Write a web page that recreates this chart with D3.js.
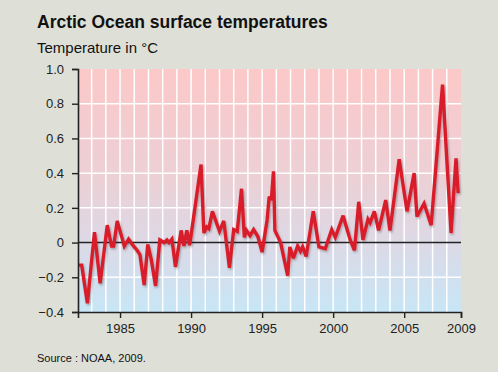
<!DOCTYPE html>
<html>
<head>
<meta charset="utf-8">
<script src="https://cdn.jsdelivr.net/npm/d3@7"></script>
<style>
  html, body { margin: 0; padding: 0; background: #dedfd6; }
  svg { display: block; font-family: "Liberation Sans", Arial, sans-serif; }
</style>
</head>
<body>
<div id="chart"></div>
<script>
// Values (decimal year, anomaly in °C)
const years = [
    1982.1, 1982.3, 1982.7, 1983.2, 1983.6, 1984.1, 1984.4, 1984.55, 1984.8, 1985.3,
    1985.6, 1985.9, 1986.25, 1986.4, 1986.7, 1986.95, 1987.2, 1987.5, 1987.8, 1988.1,
    1988.3, 1988.45, 1988.65, 1988.9, 1989.3, 1989.5, 1989.7, 1989.9, 1990.7, 1990.9,
    1991.1, 1991.25, 1991.5, 1992.0, 1992.3, 1992.7, 1993.0, 1993.25, 1993.55, 1993.75,
    1993.9, 1994.15, 1994.4, 1994.7, 1995.0, 1995.35, 1995.5, 1995.65, 1995.8, 1995.9,
    1996.3, 1996.8, 1996.95, 1997.2, 1997.5, 1997.7, 1997.85, 1998.1, 1998.6, 1999.0,
    1999.45, 1999.9, 2000.15, 2000.7, 2001.2, 2001.5, 2001.8, 2002.1, 2002.45, 2002.6,
    2002.9, 2003.2, 2003.7, 2004.0, 2004.65, 2005.2, 2005.7, 2005.9, 2006.4, 2006.9,
    2007.7, 2008.3, 2008.65, 2008.8
];
const temps = [
    -0.13, -0.13, -0.35, 0.06, -0.235, 0.10, -0.02, -0.02, 0.125, -0.02,
    0.02, -0.015, -0.05, -0.07, -0.245, -0.01, -0.10, -0.25, 0.015, 0.0,
    0.015, 0.0, 0.02, -0.14, 0.07, -0.02, 0.07, -0.015, 0.45, 0.055,
    0.09, 0.08, 0.18, 0.065, 0.125, -0.145, 0.075, 0.065, 0.31, 0.03,
    0.07, 0.04, 0.075, 0.035, -0.055, 0.13, 0.265, 0.245, 0.41, 0.07,
    0.0, -0.19, -0.025, -0.09, -0.02, -0.05, -0.025, -0.08, 0.18, -0.025,
    -0.035, 0.075, 0.03, 0.155, 0.015, -0.045, 0.235, 0.015, 0.135, 0.115,
    0.18, 0.07, 0.245, 0.07, 0.48, 0.18, 0.40, 0.15, 0.225, 0.10,
    0.91, 0.055, 0.485, 0.285
];
const xTicks = [1985, 1990, 1995, 2000, 2005, 2009];
const yTicks = [-0.4, -0.2, 0, 0.2, 0.4, 0.6, 0.8, 1.0];

const data = years.map((y, i) => ({ year: y, t: temps[i] }));

const width = 498, height = 372;
const margin = { top: 69, right: 37, bottom: 60, left: 78 };
const innerWidth = width - margin.left - margin.right;
const innerHeight = height - margin.top - margin.bottom;

const svg = d3.select('#chart').append('svg')
    .attr('width', width)
    .attr('height', height);

svg.append('rect')
    .attr('width', width)
    .attr('height', height)
    .attr('fill', '#dedfd6');

const defs = svg.append('defs');
const grad = defs.append('linearGradient')
    .attr('id', 'bg-grad')
    .attr('x1', 0).attr('y1', 0).attr('x2', 0).attr('y2', 1);
grad.append('stop').attr('offset', '0%').attr('stop-color', '#fcc8c8');
grad.append('stop').attr('offset', '45%').attr('stop-color', '#ecd0d6');
grad.append('stop').attr('offset', '72%').attr('stop-color', '#dcd9e6');
grad.append('stop').attr('offset', '100%').attr('stop-color', '#c7e6f6');

const shadow = defs.append('filter')
    .attr('id', 'shadow')
    .attr('x', '-10%').attr('y', '-10%')
    .attr('width', '120%').attr('height', '120%');
shadow.append('feDropShadow')
    .attr('dx', 1).attr('dy', 1.5)
    .attr('stdDeviation', 1.2)
    .attr('flood-color', '#000')
    .attr('flood-opacity', 0.3);

// Titles
svg.append('text')
    .attr('x', 37).attr('y', 28)
    .style('font-size', '17.5px')
    .style('font-weight', 'bold')
    .style('fill', '#111')
    .text('Arctic Ocean surface temperatures');

svg.append('text')
    .attr('x', 37).attr('y', 53)
    .style('font-size', '15px')
    .style('fill', '#111')
    .text('Temperature in °C');

svg.append('text')
    .attr('x', 37).attr('y', 362)
    .style('font-size', '11px')
    .style('fill', '#111')
    .text('Source : NOAA, 2009.');

const g = svg.append('g')
    .attr('transform', `translate(${margin.left},${margin.top})`);

const x = d3.scaleLinear()
    .domain([1982.04, 2009])
    .range([0, innerWidth]);

const y = d3.scaleLinear()
    .domain([-0.4, 1.0])
    .range([innerHeight, 0]);

// Plot background
g.append('rect')
    .attr('width', innerWidth)
    .attr('height', innerHeight)
    .attr('fill', 'url(#bg-grad)');

// Yearly vertical grid
g.append('g')
    .selectAll('line')
    .data(d3.range(1983, 2009))
    .enter().append('line')
    .attr('x1', d => x(d)).attr('x2', d => x(d))
    .attr('y1', 0).attr('y2', innerHeight)
    .attr('stroke', '#fff')
    .attr('stroke-width', 1.5);

// Horizontal grid
g.append('g')
    .selectAll('line')
    .data(yTicks.filter(d => d !== 0 && d !== -0.4 && d !== 1.0))
    .enter().append('line')
    .attr('x1', 0).attr('x2', innerWidth)
    .attr('y1', d => y(d)).attr('y2', d => y(d))
    .attr('stroke', '#fff')
    .attr('stroke-width', 1.5);

// Zero line
g.append('line')
    .attr('x1', 0).attr('x2', innerWidth)
    .attr('y1', y(0)).attr('y2', y(0))
    .attr('stroke', '#222')
    .attr('stroke-width', 1.6);

// Temperature line
const line = d3.line()
    .x(d => x(d.year))
    .y(d => y(d.t));

g.append('path')
    .datum(data)
    .attr('fill', 'none')
    .attr('stroke', '#d91e2b')
    .attr('stroke-width', 3.4)
    .attr('stroke-linejoin', 'miter')
    .attr('stroke-miterlimit', 3)
    .attr('filter', 'url(#shadow)')
    .attr('d', line);

// Axes
const xAxis = g.append('g')
    .attr('transform', `translate(0,${innerHeight})`)
    .call(d3.axisBottom(x).tickValues(xTicks).tickFormat(d3.format('d')).tickSize(6).tickPadding(6));

const yAxis = g.append('g')
    .call(d3.axisLeft(y).tickValues(yTicks)
        .tickFormat(d => d === 0 ? '0' : d3.format('.1f')(d))
        .tickSize(6).tickPadding(8));

[xAxis, yAxis].forEach(ax => {
    ax.select('.domain').attr('stroke', '#222').attr('stroke-width', 1.6);
    ax.selectAll('.tick line').attr('stroke', '#222').attr('stroke-width', 1.4);
    ax.selectAll('.tick text')
        .style('font-size', '13px')
        .style('font-family', '"Liberation Sans", Arial, sans-serif')
        .attr('fill', '#222');
});
</script>
</body>
</html>
